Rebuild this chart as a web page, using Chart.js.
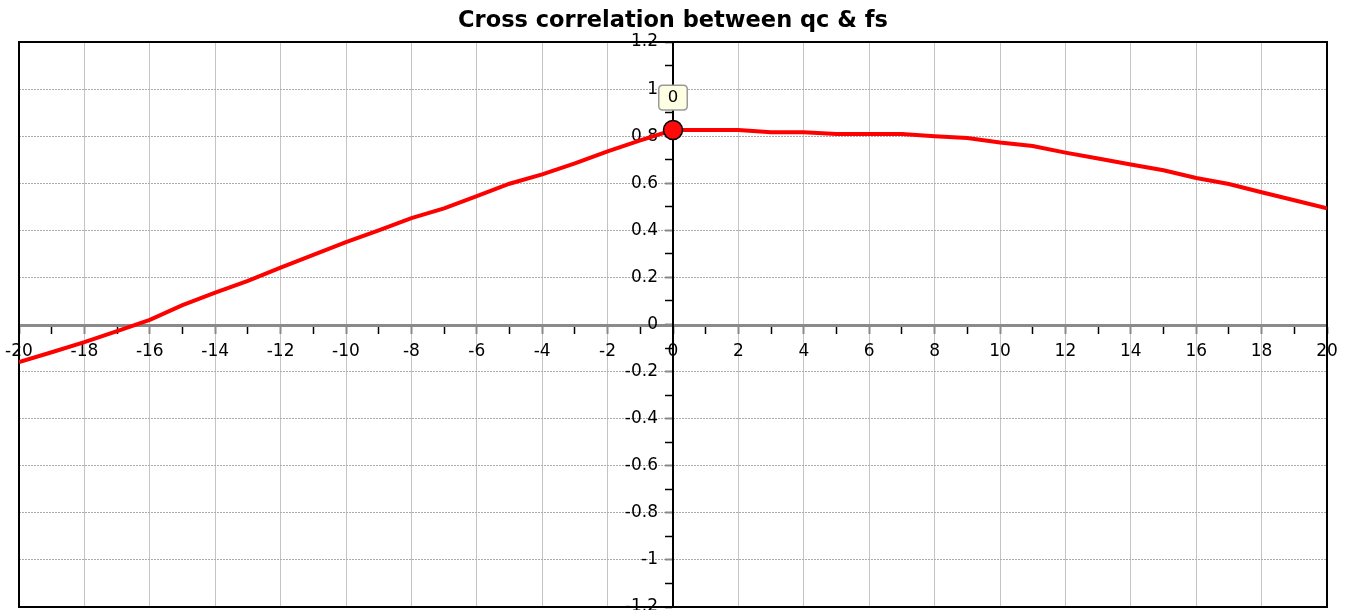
<!DOCTYPE html>
<html>
<head>
<meta charset="utf-8">
<title>Cross correlation between qc &amp; fs</title>
<script src="https://cdn.jsdelivr.net/npm/chart.js@4.4.1/dist/chart.umd.min.js"></script>
<style>
  html, body { margin: 0; padding: 0; background: #fff; }
  #wrap { width: 1353px; height: 610px; }
</style>
</head>
<body>
<div id="wrap"><canvas id="xcorr-chart" width="1353" height="610"></canvas></div>
<script>
// Chart data
const chartTitle = 'Cross correlation between qc & fs';
const lags = [-20, -19, -18, -17, -16, -15, -14, -13, -12, -11, -10, -9, -8, -7, -6, -5, -4, -3, -2, -1,
              0, 1, 2, 3, 4, 5, 6, 7, 8, 9, 10, 11, 12, 13, 14, 15, 16, 17, 18, 19, 20];
const xcorr = [-0.160, -0.118, -0.075, -0.028, 0.020, 0.082, 0.135, 0.185, 0.242, 0.296,
               0.350, 0.400, 0.452, 0.493, 0.545, 0.598, 0.638, 0.684, 0.735, 0.782,
               0.826, 0.826, 0.826, 0.817, 0.817, 0.809, 0.809, 0.809, 0.800, 0.792,
               0.773, 0.758, 0.730, 0.705, 0.680, 0.655, 0.622, 0.597, 0.562, 0.528, 0.494];
const markedLag = 0;
const xRange = [-20, 20];
const yRange = [-1.2, 1.2];

const FONT = 'DejaVu Sans, Verdana, sans-serif';
const isEven = v => Math.round(v) % 2 === 0;
const isEvenTenth = v => Math.round(v * 10) % 2 === 0;

// black frame round the plot area
const frameBox = {
    id: 'frameBox',
    beforeDatasetsDraw(chart) {
        const { ctx, chartArea: a } = chart;
        ctx.save();
        ctx.strokeStyle = '#000';
        ctx.lineWidth = 2;
        ctx.strokeRect(a.left, a.top, a.right - a.left, a.bottom - a.top);
        ctx.restore();
    }
};

const canvas = document.getElementById('xcorr-chart');
const chart = new Chart(canvas.getContext('2d'), {
    type: 'scatter',
    data: {
        datasets: [{
            label: chartTitle,
            data: lags.map((x, i) => ({ x: x, y: xcorr[i] })),
            showLine: true,
            borderColor: '#ff0000',
            borderWidth: 4,
            tension: 0,
            pointRadius: c => lags[c.dataIndex] === markedLag ? 9.5 : 0,
            pointHoverRadius: c => lags[c.dataIndex] === markedLag ? 9.5 : 0,
            pointBackgroundColor: '#ff0a0a',
            pointBorderColor: '#000',
            pointBorderWidth: 1.5,
            pointHoverBackgroundColor: '#ff0a0a',
            pointHoverBorderColor: '#000',
            pointHoverBorderWidth: 1.5
        }]
    },
    options: {
        responsive: false,
        animation: false,
        events: [],
        devicePixelRatio: 1,
        layout: { padding: { left: 19, right: 26, top: 0, bottom: 3 } },
        plugins: {
            legend: { display: false },
            title: {
                display: true,
                text: chartTitle,
                color: '#000',
                font: { family: FONT, size: 22.5, weight: 'bold' },
                padding: { top: 8, bottom: 7 }
            },
            tooltip: {
                displayColors: false,
                backgroundColor: '#fefee3',
                borderColor: '#9a9a9a',
                borderWidth: 1.5,
                bodyColor: '#000',
                bodyFont: { family: FONT, size: 16.5 },
                padding: { top: 2.5, bottom: 2.5, left: 9, right: 9 },
                cornerRadius: 4,
                caretSize: 0,
                caretPadding: 20,
                xAlign: 'center',
                yAlign: 'bottom',
                callbacks: {
                    title: () => '',
                    label: c => String(c.parsed.x)
                }
            }
        },
        scales: {
            x: {
                type: 'linear',
                axis: 'x',
                position: 'center',
                min: xRange[0],
                max: xRange[1],
                afterFit: s => { s.height = 0; s.paddingLeft = 0; s.paddingRight = 0; },
                border: { color: '#8a8a8a', width: 3 },
                grid: {
                    color: c => isEven(c.tick.value) ? '#c4c4c4' : 'rgba(0,0,0,0)',
                    lineWidth: 1,
                    tickLength: 7,
                    tickColor: c => isEven(c.tick.value) ? '#8a8a8a' : '#000',
                    tickWidth: c => isEven(c.tick.value) ? 2 : 1.5
                },
                ticks: {
                    stepSize: 1,
                    autoSkip: false,
                    maxRotation: 0,
                    padding: 9.5,
                    color: '#000',
                    font: { family: FONT, size: 17 },
                    callback: v => isEven(v) ? String(Math.round(v)) : ''
                }
            },
            y: {
                type: 'linear',
                axis: 'y',
                position: 'center',
                min: yRange[0],
                max: yRange[1],
                afterFit: s => { s.width = 0; s.paddingTop = 0; s.paddingBottom = 0; },
                border: { color: '#000', width: 2, dash: [2, 1] },
                grid: {
                    color: c => isEvenTenth(c.tick.value) ? '#ababab' : 'rgba(0,0,0,0)',
                    lineWidth: 1,
                    tickLength: 7,
                    tickColor: c => isEvenTenth(c.tick.value) ? '#8a8a8a' : '#000',
                    tickWidth: c => isEvenTenth(c.tick.value) ? 2 : 1.5
                },
                ticks: {
                    stepSize: 0.1,
                    autoSkip: false,
                    padding: 8,
                    color: '#000',
                    font: { family: FONT, size: 17 },
                    callback: v => isEvenTenth(v) ? String(Math.round(v * 10) / 10) : ''
                }
            }
        }
    },
    plugins: [frameBox]
});

// keep the label box on the marked lag
const markIndex = lags.indexOf(markedLag);
chart.tooltip.setActiveElements([{ datasetIndex: 0, index: markIndex }], { x: 0, y: 0 });
chart.update();
</script>
</body>
</html>
